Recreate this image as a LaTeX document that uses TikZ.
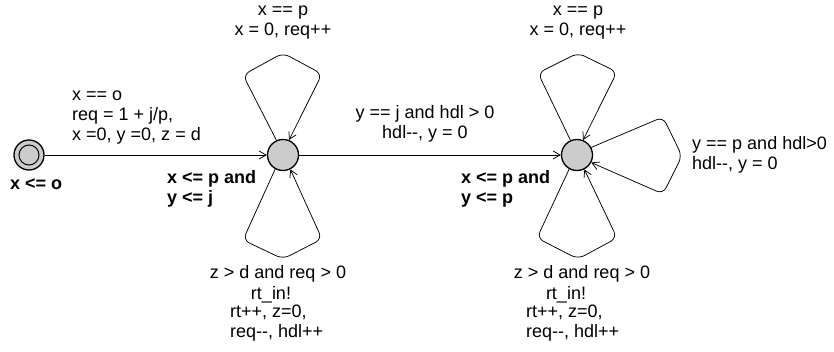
\documentclass[tikz,border=0pt]{standalone}
\usepackage{fontspec}
\setmainfont{Liberation Sans}
\usetikzlibrary{arrows.meta}
\begin{document}
\begin{tikzpicture}[x=1pt,y=-1pt,
  loc/.style={circle,draw,line width=1.3pt,fill=black!20,minimum size=31pt,inner sep=0pt},
  edge/.style={line width=0.75pt,-{Straight Barb[length=7pt,width=8pt,line width=0.75pt]}},
  loopedge/.style={edge,rounded corners=7pt},
  lbl/.style={inner sep=0pt,font=\fontsize{18}{20}\selectfont},
  inv/.style={inner sep=0pt,font=\fontsize{18}{20}\selectfont\bfseries}]
\useasboundingbox (0,0) rectangle (834,352);
% locations
\node[loc,minimum size=30pt] (s0) at (29,155) {};
\node[circle,draw,line width=1pt,fill=black!20,minimum size=20pt,inner sep=0pt] (s0in) at (29,155) {};
\node[loc] (s1) at (283,155) {};
\node[loc] (s2) at (577,155) {};
% edges
\draw[edge] (s0) -- (s1);
\draw[edge] (s1) -- (s2);
\draw[loopedge] (s1.114) -- (243,75) -- (283,53) -- (322,74) -- (s1.68);
\draw[loopedge] (s1.241) -- (243,240) -- (283,259) -- (322,239) -- (s1.297);
\draw[loopedge] (s2.114) -- (538,73) -- (578,53) -- (617,72) -- (s2.68);
\draw[loopedge] (s2.241) -- (537,238) -- (578,259) -- (617,238) -- (s2.297);
\draw[loopedge] (s2.28) -- (663,117) -- (682,156) -- (663,194) -- (s2.-28);
% labels (base anchor = baseline of the last line)
\node[lbl,anchor=base west,align=left] (l01) at (72,141) {x == o\\req = 1 + j/p,\\x =0, y =0, z = d};
\node[inv,anchor=base west] (i0) at (10,190) {x <= o};
\node[inv,anchor=base west,align=left] (i1) at (167,204) {x <= p and\\y <= j};
\node[lbl,anchor=base,align=center] (l11) at (283,36) {x == p\\x = 0, req++};
\node[lbl,anchor=base,align=center] (l12) at (425,139) {y == j and hdl > 0\\hdl-{}-, y = 0};
\node[inv,anchor=base west,align=left] (i2) at (461,204) {x <= p and\\y <= p};
\node[lbl,anchor=base,align=center] (l22) at (578,36) {x == p\\x = 0, req++};
\node[lbl,anchor=base west,align=left] (l2r) at (692,170) {y == p and hdl>0\\hdl-{}-, y = 0};
\node[lbl,anchor=base] (g1) at (278,279) {z > d and req > 0};
\node[lbl,anchor=base] (c1) at (271,299) {rt\_in!};
\node[lbl,anchor=base] (g2) at (582,279) {z > d and req > 0};
\node[lbl,anchor=base] (c2) at (566,299) {rt\_in!};
\node[lbl,anchor=base west,align=left] (u1) at (230,337) {rt++, z=0,\\req-{}-, hdl++};
\node[lbl,anchor=base west,align=left] (u2) at (526,337) {rt++, z=0,\\req-{}-, hdl++};
\end{tikzpicture}
\end{document}
